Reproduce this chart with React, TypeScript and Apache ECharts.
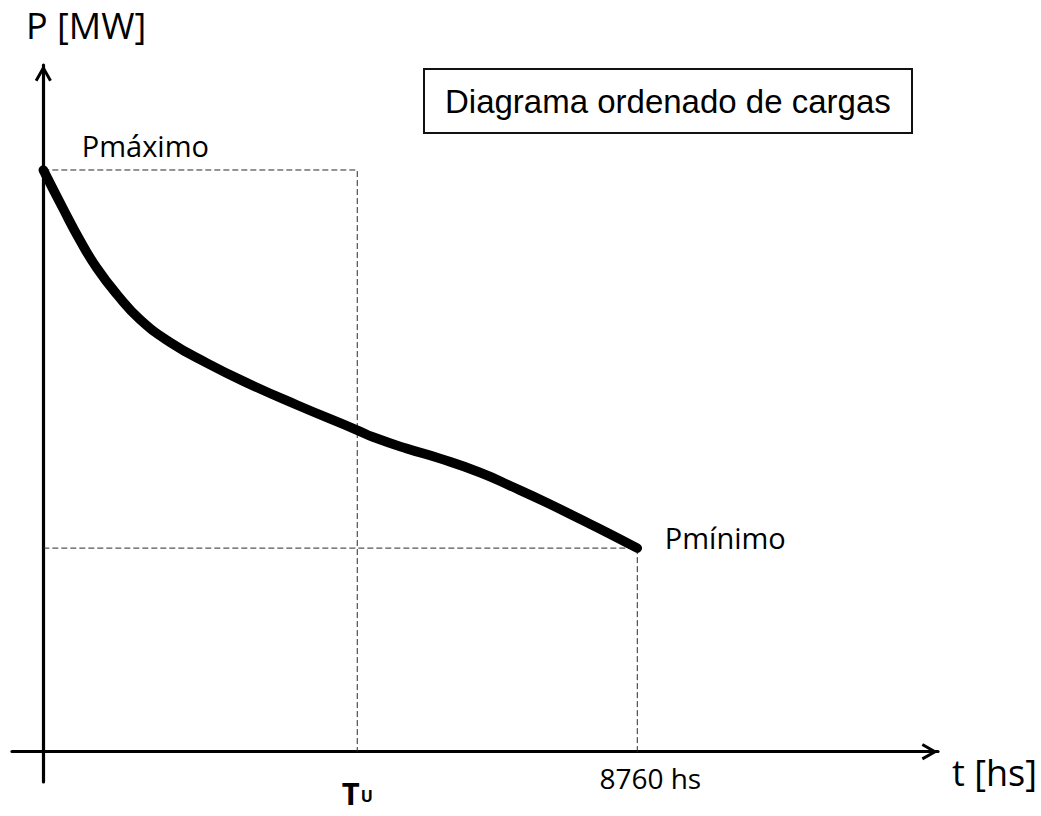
import React, { useEffect, useRef } from "react";
import * as echarts from "echarts";

// Load duration curve (hours sorted by load)
const hours = [0, 290, 541, 792, 1087, 1426, 1868, 2414, 3004, 3741, 4626, 4862, 5363, 5850, 6440, 6927, 7428, 7915, 8313, 8760];
const loadMW = [100, 93.4, 87.9, 83.1, 78.6, 74.3, 70.4, 66.8, 63.4, 59.6, 55.3, 54.1, 52.1, 50.4, 48.0, 45.5, 42.8, 40.0, 37.7, 35];

const P_MAX = 100;
const P_MIN = 35;
const T_U = 4630;
const T_YEAR = 8760;

const X_MIN = -462;
const X_MAX = 13195;
const Y_MIN = -5.21;
const Y_MAX = 118.05;

const LABEL_FONT = "'Open Sans', 'Noto Sans', sans-serif";

const chevron = "path://M10,0 L20,17.6 L16.95,19.33 L10,7.1 L3.05,19.33 L0,17.6 Z";

export default function App() {
  const ref = useRef<HTMLDivElement>(null);

  useEffect(() => {
    if (!ref.current) return;
    const chart = echarts.init(ref.current, undefined, { renderer: "svg" });

    const curve = hours.map((h, i) => [h, loadMW[i]]);
    const dashStyle = { color: "#2a2a2a", width: 1, type: [6, 3] as number[] };

    const axisLine = {
      show: true,
      onZero: true,
      symbol: ["none", chevron],
      symbolSize: [17, 16.4],
      symbolOffset: [0, -8.2],
      lineStyle: { color: "#000", width: 3.2 },
    };

    chart.setOption({
      animation: false,
      backgroundColor: "#fff",
      title: {
        text: "Diagrama ordenado de cargas",
        left: 424,
        top: 69,
        padding: [14, 21],
        borderColor: "#111",
        borderWidth: 2,
        textStyle: {
          fontFamily: "'Liberation Sans', Arial, sans-serif",
          fontSize: 33,
          fontWeight: "normal",
          color: "#000",
          lineHeight: 36,
        },
      },
      grid: { left: 12, right: 103, top: 65, bottom: 34, containLabel: false },
      xAxis: {
        type: "value",
        min: X_MIN,
        max: X_MAX,
        axisLine,
        axisTick: { show: false },
        axisLabel: { show: false },
        splitLine: { show: false },
      },
      yAxis: {
        type: "value",
        min: Y_MIN,
        max: Y_MAX,
        axisLine,
        axisTick: { show: false },
        axisLabel: { show: false },
        splitLine: { show: false },
      },
      graphic: [
        {
          type: "text",
          left: 26,
          top: 7,
          style: { text: "P [MW]", fontFamily: LABEL_FONT, fontSize: 36, fill: "#000" },
        },
        {
          type: "text",
          left: 952,
          top: 754,
          style: { text: "t [hs]", fontFamily: LABEL_FONT, fontSize: 36, fill: "#000" },
        },
      ],
      series: [
        {
          name: "Pmáximo / Tu",
          type: "line",
          silent: true,
          symbol: "circle",
          symbolSize: 0,
          showSymbol: true,
          lineStyle: dashStyle,
          z: 1,
          data: [
            {
              value: [0, P_MAX],
              label: {
                show: true,
                position: "inside",
                offset: [102, -24],
                formatter: "Pmáximo",
                fontFamily: LABEL_FONT,
                fontSize: 29,
                color: "#000",
              },
            },
            { value: [T_U, P_MAX] },
            {
              value: [T_U, 0],
              label: {
                show: true,
                position: "inside",
                offset: [0, 41],
                formatter: "{t|T}{u|U}",
                rich: {
                  t: { fontFamily: LABEL_FONT, fontSize: 31, fontWeight: "bold", color: "#000" },
                  u: { fontFamily: LABEL_FONT, fontSize: 16, fontWeight: "bold", color: "#000", verticalAlign: "bottom", padding: [0, 0, 4, 1] },
                },
              },
            },
          ],
        },
        {
          name: "Pmínimo / 8760",
          type: "line",
          silent: true,
          symbol: "circle",
          symbolSize: 0,
          showSymbol: true,
          lineStyle: dashStyle,
          z: 1,
          data: [
            { value: [0, P_MIN] },
            {
              value: [T_YEAR, P_MIN],
              label: {
                show: true,
                position: "inside",
                offset: [88, -11],
                formatter: "Pmínimo",
                fontFamily: LABEL_FONT,
                fontSize: 29,
                color: "#000",
              },
            },
            {
              value: [T_YEAR, 0],
              label: {
                show: true,
                position: "inside",
                offset: [13, 26],
                formatter: T_YEAR + " hs",
                fontFamily: LABEL_FONT,
                fontSize: 28,
                color: "#000",
              },
            },
          ],
        },
        {
          name: "Carga",
          type: "line",
          silent: true,
          smooth: 0.5,
          showSymbol: false,
          lineStyle: { color: "#000", width: 9.5, cap: "round", join: "round" },
          z: 3,
          data: curve,
        },
      ],
    });

    return () => chart.dispose();
  }, []);

  return (
    <div
      ref={ref}
      style={{ position: "absolute", left: 0, top: 0, width: 1041, height: 816 }}
    />
  );
}
